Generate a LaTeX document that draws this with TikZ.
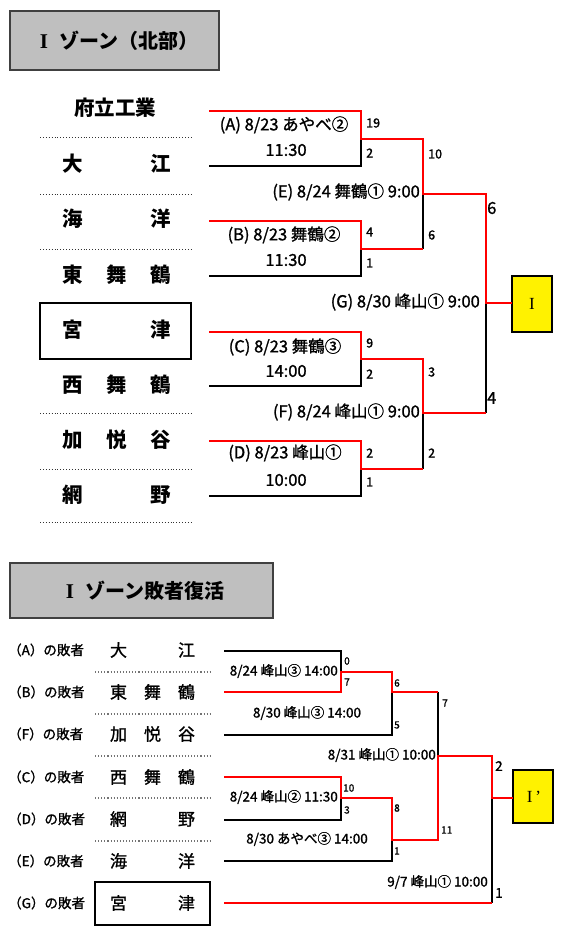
\documentclass[tikz,border=0pt]{standalone}
\usepackage{fontspec}
\setmainfont{Noto Sans CJK JP}
\newfontfamily\medf{Noto Sans CJK JP}[FakeBold=1.2]
\newfontfamily\serf{Liberation Serif}
\newcommand\spreadbox[2]{\makebox[#1]{#2}}
\begin{document}
\begin{tikzpicture}[x=1pt,y=-1pt,
  win/.style={draw=red,line width=1.8pt,line join=miter},
  lose/.style={draw=black,line width=1.1pt},
  hdr/.style={draw=black!75,line width=1.5pt,fill=black!25},
  champ/.style={draw=black,line width=1.6pt,fill=yellow},
  sep/.style={draw=black!80,dotted,line width=0.9pt},
  sepb/.style={draw=black!55,dotted,line width=1.1pt},
  tbig/.style={inner sep=0pt,font=\fontsize{20.5}{20.5}\selectfont\bfseries},
  tsmall/.style={inner sep=0pt,font=\medf\fontsize{17}{17}\selectfont},
  mtxt/.style={inner sep=0pt,font=\medf\fontsize{16.5}{16.5}\selectfont},
  mtxtb/.style={inner sep=0pt,font=\medf\fontsize{13.5}{13.5}\selectfont},
  sc/.style={inner sep=0pt,anchor=west,font=\medf\fontsize{12.5}{12.5}\selectfont},
  scL/.style={inner sep=0pt,anchor=west,font=\medf\fontsize{16.5}{16.5}\selectfont},
  scs/.style={inner sep=0pt,anchor=west,font=\medf\fontsize{10}{10}\selectfont},
  scm/.style={inner sep=0pt,anchor=west,font=\medf\fontsize{13.5}{13.5}\selectfont},
  lbl/.style={inner sep=0pt,anchor=west,font=\medf\fontsize{13.5}{13.5}\selectfont}]
\useasboundingbox (0,0) rectangle (570,941);
\fill[white] (0,0) rectangle (570,941);

% ===== headers =====
\draw[hdr] (10,11) rectangle (219,70);
\node[inner sep=0pt,font=\fontsize{20}{20}\selectfont\bfseries] (h1) at (119,41) {{\serf\fontsize{21}{21}\selectfont I}\hspace{11pt}ゾーン（北部）};
\draw[hdr] (10,563) rectangle (273,618);
\node[inner sep=0pt,font=\fontsize{20}{20}\selectfont\bfseries] (h2) at (145,591) {{\serf\fontsize{21}{21}\selectfont I}\hspace{11pt}ゾーン敗者復活};

% ===== top team list =====
\node[tbig] (t1) at (115,108) {府立工業};
\draw[sep] (40,137) -- (192,137);
\node[tbig] (t2) at (116.5,164) {\spreadbox{109pt}{大\hfill 江}};
\draw[sep] (40,194) -- (192,194);
\node[tbig] (t3) at (116.5,219) {\spreadbox{109pt}{海\hfill 洋}};
\draw[sep] (40,249) -- (192,249);
\node[tbig] (t4) at (116.5,275) {\spreadbox{109pt}{東\hfill 舞\hfill 鶴}};
\draw[black,line width=2pt] (40,303) rectangle (191,359);
\node[tbig] (t5) at (116.5,330) {\spreadbox{109pt}{宮\hfill 津}};
\node[tbig] (t6) at (116.5,385) {\spreadbox{109pt}{西\hfill 舞\hfill 鶴}};
\draw[sep] (40,413) -- (192,413);
\node[tbig] (t7) at (116.5,440) {\spreadbox{109pt}{加\hfill 悦\hfill 谷}};
\draw[sep] (40,469) -- (192,469);
\node[tbig] (t8) at (116.5,495) {\spreadbox{109pt}{網\hfill 野}};
\draw[sep] (40,522) -- (192,522);

% ===== top bracket coordinates =====
\coordinate (A1) at (209,111); \coordinate (A2) at (361,111); \coordinate (A3) at (361,139);
\coordinate (A4) at (209,166); \coordinate (A5) at (361,166);
\coordinate (B1) at (209,221); \coordinate (B2) at (361,221); \coordinate (B3) at (361,249);
\coordinate (B4) at (209,276); \coordinate (B5) at (361,276);
\coordinate (C1) at (209,332); \coordinate (C2) at (361,332); \coordinate (C3) at (361,359);
\coordinate (C4) at (209,386); \coordinate (C5) at (361,386);
\coordinate (D1) at (209,441); \coordinate (D2) at (361,441); \coordinate (D3) at (361,469);
\coordinate (D4) at (209,496); \coordinate (D5) at (361,496);
\coordinate (E1) at (423,139); \coordinate (E2) at (423,194); \coordinate (E3) at (423,249);
\coordinate (F1) at (423,359); \coordinate (F2) at (423,413); \coordinate (F3) at (423,469);
\coordinate (G1) at (486,194); \coordinate (G2) at (486,303); \coordinate (G3) at (486,413);

\draw[champ] (512,276) rectangle (552,332);
\node[inner sep=0pt,font=\serf\fontsize{17}{17}\selectfont] (champ1) at (532,304) {I};
\coordinate (K1) at (512,303);

% black parts
\draw[lose] (A4) -- (A5) -- (A3);
\draw[lose] (B4) -- (B5) -- (B3);
\draw[lose] (C4) -- (C5) -- (C3);
\draw[lose] (D4) -- (D5) -- (D3);
\draw[lose] (E3) -- (E2);
\draw[lose] (F3) -- (F2);
\draw[lose] (G3) -- (G2);
% red parts
\draw[win] (A1) -- (A2) -- (A3) -- (E1) -- (E2) -- (G1) -- (G2) -- (K1);
\draw[win] (B1) -- (B2) -- (B3) -- (E3);
\draw[win] (C1) -- (C2) -- (C3) -- (F1) -- (F2) -- (G3);
\draw[win] (D1) -- (D2) -- (D3) -- (F3);

% match texts
\node[mtxt] (mA) at (284,125) {(A) 8/23 あやべ②};
\node[mtxt] (mA2) at (286,150) {11:30};
\node[mtxt,anchor=east] (mE) at (420,192) {(E) 8/24 舞鶴① 9:00};
\node[mtxt] (mB) at (284,235) {(B) 8/23 舞鶴②};
\node[mtxt] (mB2) at (286,260) {11:30};
\node[mtxt,anchor=east] (mG) at (480,302) {(G) 8/30 峰山① 9:00};
\node[mtxt] (mC) at (285,347) {(C) 8/23 舞鶴③};
\node[mtxt] (mC2) at (286,371) {14:00};
\node[mtxt,anchor=east] (mF) at (420,412) {(F) 8/24 峰山① 9:00};
\node[mtxt] (mD) at (285,453) {(D) 8/23 峰山①};
\node[mtxt] (mD2) at (286,480) {10:00};

% scores
\node[sc] (s1) at (366,123) {19};
\node[sc] (s2) at (366,153) {2};
\node[sc] (s3) at (428,154) {10};
\node[sc] (s4) at (366,232) {4};
\node[sc] (s5) at (366,263) {1};
\node[sc] (s6) at (428,235) {6};
\node[sc] (s7) at (366,343) {9};
\node[sc] (s8) at (366,374) {2};
\node[sc] (s9) at (428,372) {3};
\node[sc] (s10) at (366,453) {2};
\node[sc] (s11) at (366,482) {1};
\node[sc] (s12) at (428,453) {2};
\node[scL] (s13) at (487,208) {6};
\node[scL] (s14) at (487,398) {4};

% ===== bottom list =====
\foreach \n/\y/\l in {a/650/A,b/692/B,f/734/F,c/777/C,d/819/D,e/861/E,g/903/G}
  \node[lbl] (l\n) at (8,\y) {（\l）の敗者};
\node[tsmall] (u1) at (152.5,650) {\spreadbox{85pt}{大\hfill 江}};
\draw[sepb] (95,672) -- (211,672);
\node[tsmall] (u2) at (152.5,692) {\spreadbox{85pt}{東\hfill 舞\hfill 鶴}};
\draw[sepb] (95,714) -- (211,714);
\node[tsmall] (u3) at (152.5,734) {\spreadbox{85pt}{加\hfill 悦\hfill 谷}};
\draw[sepb] (95,756) -- (211,756);
\node[tsmall] (u4) at (152.5,777) {\spreadbox{85pt}{西\hfill 舞\hfill 鶴}};
\draw[sepb] (95,798) -- (211,798);
\node[tsmall] (u5) at (152.5,819) {\spreadbox{85pt}{網\hfill 野}};
\draw[sepb] (95,841) -- (211,841);
\node[tsmall] (u6) at (152.5,861) {\spreadbox{85pt}{海\hfill 洋}};
\draw[black,line width=1.6pt] (95,882) rectangle (210,925);
\node[tsmall] (u7) at (152.5,903) {\spreadbox{85pt}{宮\hfill 津}};

% ===== bottom bracket =====
\coordinate (P1) at (224,651); \coordinate (P2) at (341,651); \coordinate (P3) at (341,672);
\coordinate (P4) at (224,692); \coordinate (P5) at (341,692);
\coordinate (Q1) at (392,672); \coordinate (Q2) at (392,692); \coordinate (Q3) at (392,735);
\coordinate (Q4) at (224,735);
\coordinate (R1) at (438,692); \coordinate (R2) at (438,756); \coordinate (R3) at (438,840);
\coordinate (S1) at (224,777); \coordinate (S2) at (341,777); \coordinate (S3) at (341,798);
\coordinate (S4) at (224,820); \coordinate (S5) at (341,820);
\coordinate (T1) at (392,798); \coordinate (T2) at (392,840); \coordinate (T3) at (392,861);
\coordinate (T4) at (224,861);
\coordinate (V1) at (492,756); \coordinate (V2) at (492,798); \coordinate (V3) at (492,903);
\coordinate (V4) at (224,903);
\coordinate (K2) at (513,798);

\draw[champ] (513,770) rectangle (553,823);
\node[inner sep=0pt,font=\serf\fontsize{17}{17}\selectfont] (champ2) at (534,797) {I\,’};

\draw[lose] (P1) -- (P2) -- (P3);
\draw[lose] (Q4) -- (Q3) -- (Q2);
\draw[lose] (R1) -- (R2);
\draw[lose] (S4) -- (S5) -- (S3);
\draw[lose] (T4) -- (T3) -- (T2);
\draw[lose] (V3) -- (V2);
\draw[win] (P4) -- (P5) -- (P3) -- (Q1) -- (Q2) -- (R1);
\draw[win] (S1) -- (S2) -- (S3) -- (T1) -- (T2) -- (R3) -- (R2) -- (V1) -- (V2) -- (K2);
\draw[win] (V4) -- (V3);

\node[mtxtb,anchor=east] (n1) at (338,671) {8/24 峰山③ 14:00};
\node[mtxtb] (n2) at (307,713) {8/30 峰山③ 14:00};
\node[mtxtb,anchor=east] (n3) at (436,755) {8/31 峰山① 10:00};
\node[mtxtb,anchor=east] (n4) at (338,797) {8/24 峰山② 11:30};
\node[mtxtb] (n5) at (307,839) {8/30 あやべ③ 14:00};
\node[mtxtb,anchor=east] (n6) at (488,882) {9/7 峰山① 10:00};

\node[scs] (b1) at (344,661) {0};
\node[scs] (b2) at (344,682) {7};
\node[scs] (b3) at (394,683) {6};
\node[scs] (b4) at (394,725) {5};
\node[scs] (b5) at (442,703) {7};
\node[scs] (b6) at (343,788) {10};
\node[scs] (b7) at (344,810) {3};
\node[scs] (b8) at (394,808) {8};
\node[scs] (b9) at (394,851) {1};
\node[scs] (b10) at (441,830) {11};
\node[scm] (b11) at (495,766) {2};
\node[scm] (b12) at (495,893) {1};
\end{tikzpicture}
\end{document}
